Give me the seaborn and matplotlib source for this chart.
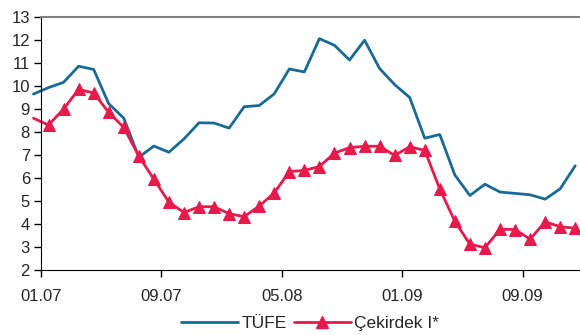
import pandas as pd
import matplotlib
matplotlib.use("Agg")
import matplotlib.pyplot as plt
from matplotlib.lines import Line2D
import seaborn as sns

# monthly values, Dec 2006 .. Dec 2009
tufe = [9.65, 9.93, 10.16, 10.86, 10.72, 9.23, 8.60, 6.90, 7.39, 7.12, 7.70, 8.40, 8.39,
        8.17, 9.10, 9.15, 9.66, 10.74, 10.61, 12.06, 11.77, 11.13, 11.99, 10.76, 10.06,
        9.50, 7.73, 7.89, 6.13, 5.24, 5.73, 5.39, 5.33, 5.27, 5.08, 5.53, 6.53]
cekirdek = [8.60, 8.30, 9.00, 9.85, 9.70, 8.85, 8.20, 6.95, 5.95, 4.95, 4.50, 4.75, 4.75,
            4.45, 4.32, 4.78, 5.35, 6.28, 6.33, 6.50, 7.08, 7.32, 7.38, 7.38,
            6.98, 7.36, 7.20, 5.52, 4.12, 3.12, 2.97, 3.77, 3.76, 3.34, 4.10, 3.88, 3.82]
tick_labels = ["01.07", "09.07", "05.08", "01.09", "09.09"]

blue = "#1A6A98"
red = "#E8194B"

df = pd.DataFrame({"k": range(-1, len(tufe) - 1), "TÜFE": tufe, "Çekirdek I*": cekirdek})

sns.set_style("white")
plt.rcParams["font.family"] = ["Liberation Sans", "DejaVu Sans"]

fig = plt.figure(figsize=(5.8, 3.35), dpi=100)
ax = fig.add_axes([41 / 580, 65 / 335, 538 / 580, 253 / 335])

sns.lineplot(data=df, x="k", y="TÜFE", ax=ax, color=blue, lw=2, clip_on=False)
sns.lineplot(data=df, x="k", y="Çekirdek I*", ax=ax, color=red, lw=2, marker="^", ms=8,
             mec=red, markevery=list(range(1, len(df))), clip_on=False)

ax.set_xlim(-0.5, 35.25)
ax.set_ylim(2, 13)
ax.set_yticks(range(2, 14))
ax.set_xticks([-0.5, 7.5, 15.5, 23.5, 31.5])
ax.set_xticklabels(tick_labels)
ax.set_xlabel("")
ax.set_ylabel("")
ax.tick_params(axis="both", labelsize=12, length=5, width=1, color="black", direction="out",
               left=True, bottom=True, pad=3)
ax.tick_params(axis="x", pad=9)

ax.spines["left"].set_color("black")
ax.spines["bottom"].set_color("black")
ax.spines["top"].set_color("#808080")
ax.spines["top"].set_linewidth(1.5)
ax.spines["right"].set_visible(False)

handles = [Line2D([], [], color=blue, lw=2),
           Line2D([], [], color=red, lw=2, marker="^", ms=8)]
ax.legend(handles, ["TÜFE", "Çekirdek I*"], loc="upper center", bbox_to_anchor=(0.5, -0.155),
          ncol=2, frameon=False, fontsize=12.5, numpoints=1, handlelength=3.3,
          handletextpad=0.2, columnspacing=0.4, borderaxespad=0)

fig.savefig("out.png", dpi=100)
